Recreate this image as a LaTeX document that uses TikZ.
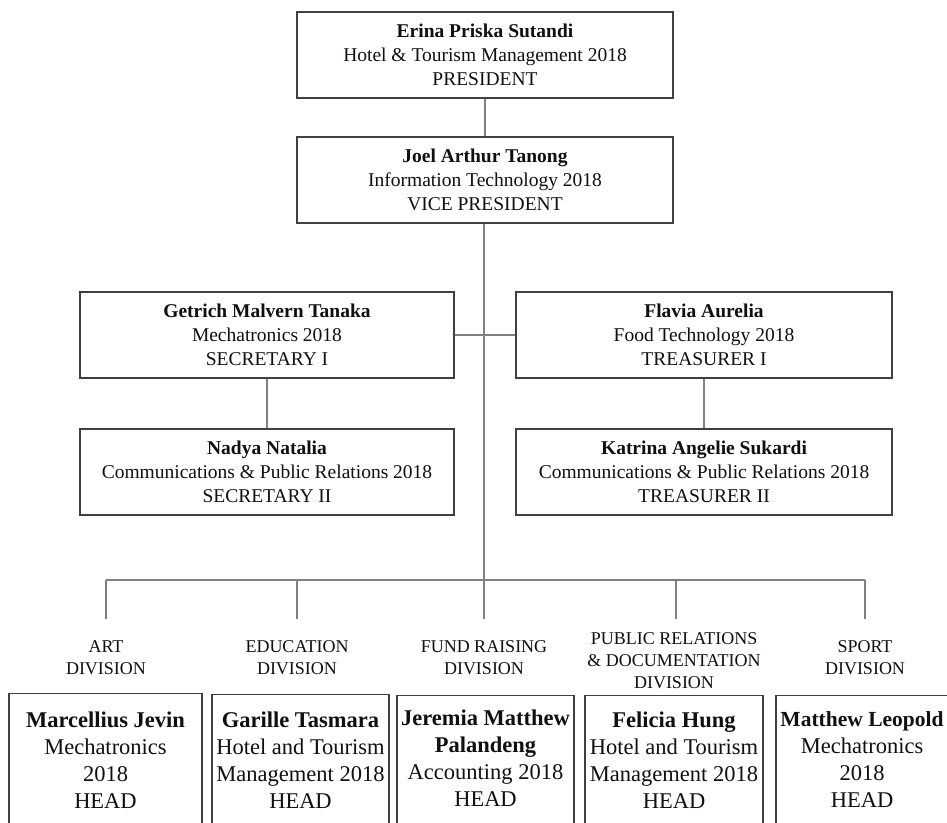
\documentclass[tikz,border=0pt]{standalone}
\usepackage{fontspec}
\setmainfont{Liberation Serif}
\definecolor{boxline}{HTML}{404040}
\definecolor{conngray}{HTML}{808080}
\definecolor{txt}{HTML}{101010}
\tikzset{
  topbox/.style={draw=boxline, line width=1.3pt, inner sep=0pt, align=center,
    text=txt, font=\fontsize{19.5}{24}\selectfont, minimum height=86pt},
  headbox/.style={draw=boxline, line width=1.3pt, inner sep=0pt, anchor=north,
    minimum height=160pt},
  headtext/.style={align=center, inner sep=0pt, text=txt,
    font=\fontsize{22.5}{27}\selectfont},
  divlabel/.style={align=center, inner sep=0pt, text=txt,
    font=\fontsize{18}{22}\selectfont},
  conn/.style={draw=conngray, line width=1.1pt},
}
\begin{document}
\begin{tikzpicture}[x=1pt,y=-1pt]
\useasboundingbox (0,0) rectangle (947,822);
\clip (0,0) rectangle (947,822);
\fill[white] (0,0) rectangle (947,822);

% top boxes
\node[topbox, minimum width=376pt] (pres) at (485,55)
  {\textbf{Erina Priska Sutandi}\\Hotel \& Tourism Management 2018\\PRESIDENT};
\node[topbox, minimum width=376pt] (vp) at (485,180)
  {\textbf{Joel Arthur Tanong}\\Information Technology 2018\\VICE PRESIDENT};
\node[topbox, minimum width=374pt] (sec1) at (267,335)
  {\textbf{Getrich Malvern Tanaka}\\Mechatronics 2018\\SECRETARY I};
\node[topbox, minimum width=376pt] (tre1) at (704,335)
  {\textbf{Flavia Aurelia}\\Food Technology 2018\\TREASURER I};
\node[topbox, minimum width=374pt] (sec2) at (267,472)
  {\textbf{Nadya Natalia}\\Communications \& Public Relations 2018\\SECRETARY II};
\node[topbox, minimum width=376pt] (tre2) at (704,472)
  {\textbf{Katrina Angelie Sukardi}\\Communications \& Public Relations 2018\\TREASURER II};

% connectors in the upper part
\coordinate (b1) at (106,580);
\coordinate (b2) at (297,580);
\coordinate (b3) at (484,580);
\coordinate (b4) at (676,580);
\coordinate (b5) at (865,580);
\coordinate (d1) at (106,619);
\coordinate (d2) at (297,619);
\coordinate (d3) at (484,619);
\coordinate (d4) at (676,619);
\coordinate (d5) at (865,619);

\draw[conn] (pres.south) -- (vp.north);
\draw[conn] (vp.south -| b3) -- (b3);
\draw[conn] (sec1.east) -- (tre1.west);
\draw[conn] (sec1.south) -- (sec2.north);
\draw[conn] (tre1.south) -- (tre2.north);
\draw[conn] (b1) -- (b5);
\draw[conn] (b1) -- (d1);
\draw[conn] (b2) -- (d2);
\draw[conn] (b3) -- (d3);
\draw[conn] (b4) -- (d4);
\draw[conn] (b5) -- (d5);

% division labels
\node[divlabel] (div1) at (106,658) {ART\\DIVISION};
\node[divlabel] (div2) at (297,658) {EDUCATION\\DIVISION};
\node[divlabel] (div3) at (484,658) {FUND RAISING\\DIVISION};
\node[divlabel] (div4) at (674,661) {PUBLIC RELATIONS\\\& DOCUMENTATION\\DIVISION};
\node[divlabel] (div5) at (865,658) {SPORT\\DIVISION};

% head boxes
\node[headbox, minimum width=193pt] (box1) at (105.5,693) {};
\node[headbox, minimum width=177pt] (box2) at (300.5,694) {};
\node[headbox, minimum width=177pt] (box3) at (485.5,695) {};
\node[headbox, minimum width=178pt] (box4) at (674,695) {};
\node[headbox, minimum width=176pt] (box5) at (864,695) {};

\node[headtext] (head1) at (105.5,760)
  {\textbf{Marcellius Jevin}\\Mechatronics\\2018\\HEAD};
\node[headtext] (head2) at (300.5,760)
  {\textbf{Garille Tasmara}\\Hotel and Tourism\\Management 2018\\HEAD};
\node[headtext] (head3) at (485.5,758)
  {\textbf{Jeremia Matthew}\\\textbf{Palandeng}\\Accounting 2018\\HEAD};
\node[headtext] (head4) at (674,760)
  {\textbf{Felicia Hung}\\Hotel and Tourism\\Management 2018\\HEAD};
\node[headtext] (head5) at (862,760)
  {{\fontsize{21.5}{27}\selectfont\textbf{Matthew Leopold}}\\Mechatronics\\2018\\HEAD};
\end{tikzpicture}
\end{document}
